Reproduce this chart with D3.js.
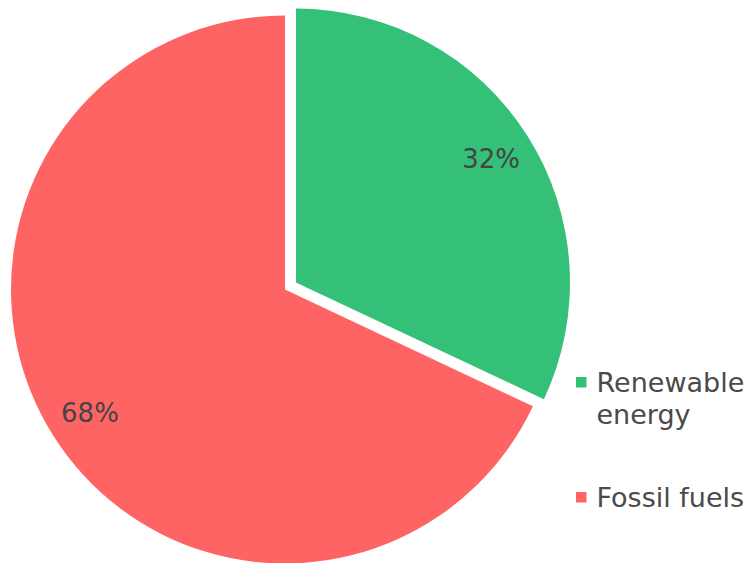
<!DOCTYPE html>
<html>
<head>
<meta charset="utf-8">
<script src="https://cdn.jsdelivr.net/npm/d3@7"></script>
<style>
  html, body { margin: 0; padding: 0; background: #fff; }
  svg { display: block; font-family: "DejaVu Sans", Verdana, sans-serif; }
</style>
</head>
<body>
<svg id="chart" width="753" height="563"></svg>
<script>
// Share of energy sources
const categories = ["Renewable energy", "Fossil fuels"];
const values = [32, 68];
const labels = ["32%", "68%"];
const colors = ["#35c077", "#ff6464"];
const legendLines = [["Renewable", "energy"], ["Fossil fuels"]];

const svg = d3.select("#chart");
const cx = 285, cy = 289.5, radius = 274;
const explode = [13, 0];   // renewable slice is pulled out
const labelRadius = 231;

const pie = d3.pie().sort(null).value(d => d)(values);
const arc = d3.arc().innerRadius(0).outerRadius(radius);
const labelArc = d3.arc().innerRadius(labelRadius).outerRadius(labelRadius);

const g = svg.append("g").attr("transform", `translate(${cx},${cy})`);

const slices = g.selectAll("g.slice")
  .data(pie)
  .join("g")
  .attr("class", "slice")
  .attr("transform", (d, i) => {
    const a = (d.startAngle + d.endAngle) / 2;
    return `translate(${Math.sin(a) * explode[i]},${-Math.cos(a) * explode[i]})`;
  });

slices.append("path")
  .attr("d", arc)
  .attr("fill", (d, i) => colors[i]);

slices.append("text")
  .attr("transform", d => `translate(${labelArc.centroid(d)})`)
  .attr("text-anchor", "middle")
  .attr("dominant-baseline", "central")
  .attr("font-size", 26)
  .attr("fill", "#444")
  .text((d, i) => labels[i]);

// Legend
const legendTop = [392, 507];
const legend = svg.append("g");
categories.forEach((c, i) => {
  const lg = legend.append("g");
  lg.append("rect")
    .attr("x", 576).attr("y", legendTop[i] - 15)
    .attr("width", 10.5).attr("height", 10.5)
    .attr("fill", colors[i]);
  legendLines[i].forEach((line, j) => {
    lg.append("text")
      .attr("x", 596.5)
      .attr("y", legendTop[i] + j * 31.5)
      .attr("font-size", 27)
      .attr("fill", "#4a4a4a")
      .text(line);
  });
});
</script>
</body>
</html>
